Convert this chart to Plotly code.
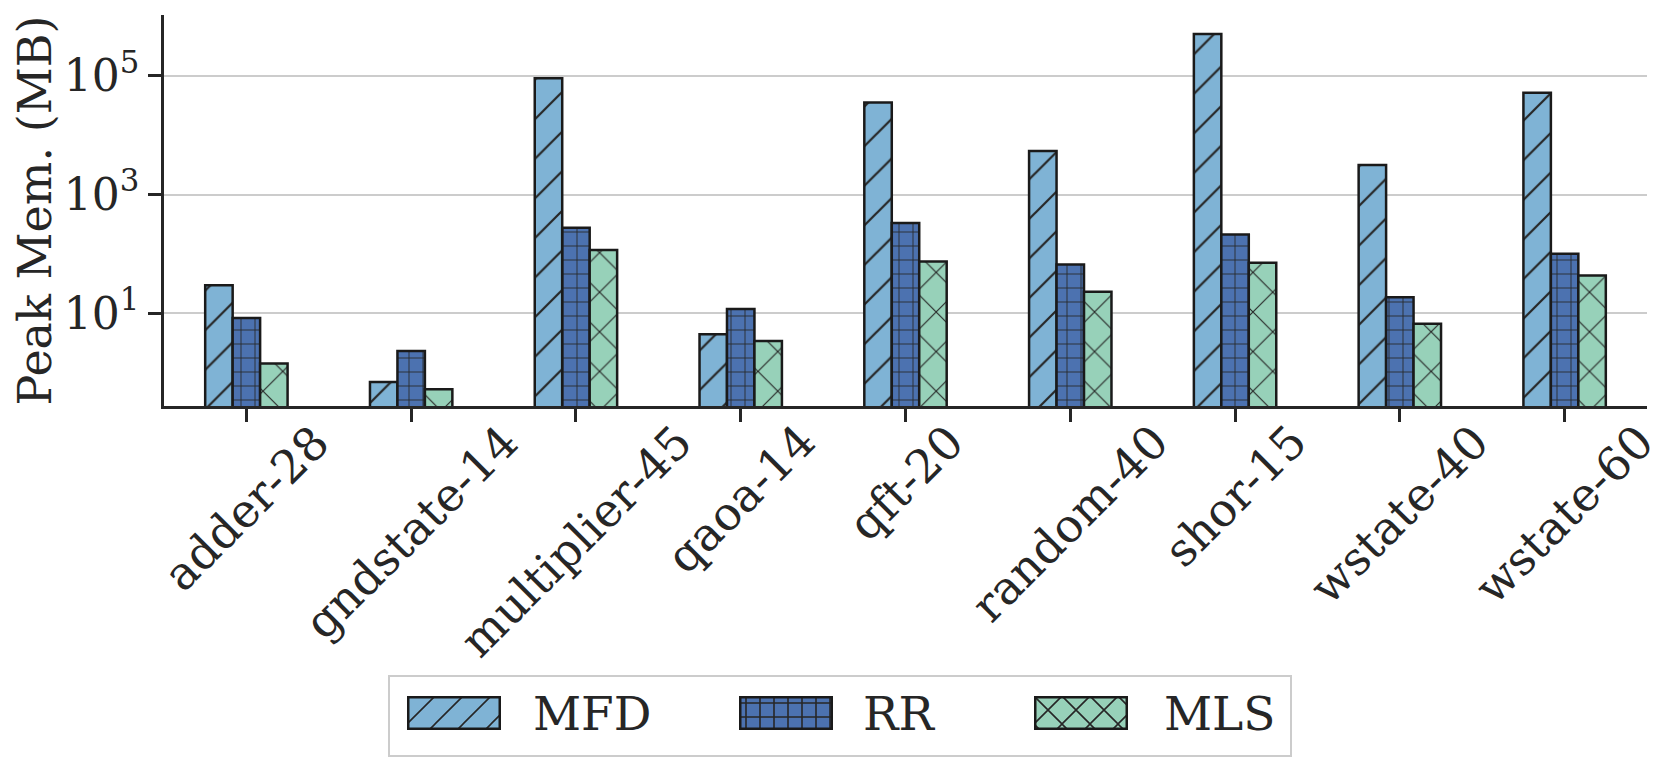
import base64
import plotly.graph_objects as go

categories = ["adder-28", "gndstate-14", "multiplier-45", "qaoa-14", "qft-20",
              "random-40", "shor-15", "wstate-40", "wstate-60"]
mfd = [29.6, 0.69, 91000, 4.4, 35700, 5400, 510000, 3160, 52000]
rr = [8.3, 2.3, 275, 11.7, 330, 66, 212, 18.6, 100]
mls = [1.42, 0.52, 116, 3.4, 74, 23, 71, 6.6, 43]
series_names = ["MFD", "RR", "MLS"]
series_values = [mfd, rr, mls]
series_colors = ["#7fb3d5", "#4c72b0", "#97d1b9"]
series_shapes = ["/", "+", "x"]
ytickvals = [10, 1000, 100000]
yticktext = ["10<sup>1</sup>", "10<sup>3</sup>", "10<sup>5</sup>"]

FONT = "DejaVu Serif"
TXT = "#262626"
EDGE = "#1a1a1a"
W, H = 1661, 757
# plot area in pixels
PL, PR, PT, PB = 156, 1639, 7, 398
pattern_size = {"/": 28, "+": 14, "x": 28}
pattern_sol = {"/": 0.08, "+": 0.12, "x": 0.08}


def px_to_paper_x(px):
    return (px - PL) / (PR - PL)


def px_to_paper_y(py):
    return (PB - py) / (PB - PT)


def swatch_svg(color, shape, w=94, h=34):
    s = pattern_size[shape]
    if shape == "/":
        lines = (f'<path d="M0,{s} L{s},0 M{-s/2},{s/2} L{s/2},{-s/2} '
                 f'M{s/2},{1.5*s} L{1.5*s},{s/2}" stroke="{TXT}" stroke-width="1.6"/>')
    elif shape == "+":
        lines = f'<path d="M{s/2},0 L{s/2},{s} M0,{s/2} L{s},{s/2}" stroke="{TXT}" stroke-width="1.6"/>'
    else:
        lines = f'<path d="M0,0 L{s},{s} M0,{s} L{s},0" stroke="{TXT}" stroke-width="1.6"/>'
    svg = (f'<svg xmlns="http://www.w3.org/2000/svg" width="{w}" height="{h}" viewBox="0 0 {w} {h}">'
           f'<defs><pattern id="p" patternUnits="userSpaceOnUse" width="{s}" height="{s}">'
           f'<rect width="{s}" height="{s}" fill="{color}"/>{lines}</pattern></defs>'
           f'<rect x="1.25" y="1.25" width="{w-2.5}" height="{h-2.5}" fill="url(#p)" '
           f'stroke="{EDGE}" stroke-width="2.5"/></svg>')
    return "data:image/svg+xml;base64," + base64.b64encode(svg.encode()).decode()


fig = go.Figure()
for name, vals, color, shape in zip(series_names, series_values, series_colors, series_shapes):
    fig.add_trace(go.Bar(
        x=categories, y=vals, name=name, showlegend=False,
        marker=dict(color=color,
                    line=dict(color=EDGE, width=2.5),
                    pattern=dict(shape=shape, fgcolor=TXT, bgcolor=color,
                                 size=pattern_size[shape], solidity=pattern_sol[shape],
                                 fillmode="replace")),
    ))

# rotated category labels centred under their ticks
annotations = []
for c in categories:
    annotations.append(dict(
        x=c, xref="x", y=0, yref="paper", text=c, showarrow=False,
        textangle=-45, xanchor="center", yanchor="top", yshift=-7, borderpad=0,
        font=dict(family=FONT, size=46, color=TXT),
    ))

# legend box (drawn manually to get large hatched swatches)
LEG_L, LEG_R, LEG_T, LEG_B = 381, 1283, 668, 748
shapes = [dict(type="rect", xref="paper", yref="paper",
               x0=px_to_paper_x(LEG_L), x1=px_to_paper_x(LEG_R),
               y0=px_to_paper_y(LEG_B), y1=px_to_paper_y(LEG_T),
               line=dict(color="#cccccc", width=2), fillcolor="rgba(0,0,0,0)", layer="below")]
images = []
swatch_left = [399, 731, 1026]
text_left = [523, 853, 1154]
for name, color, shape, sx, tx in zip(series_names, series_colors, series_shapes, swatch_left, text_left):
    images.append(dict(
        source=swatch_svg(color, shape), xref="paper", yref="paper",
        x=px_to_paper_x(sx), y=px_to_paper_y(688),
        sizex=94 / (PR - PL), sizey=34 / (PB - PT),
        xanchor="left", yanchor="top", sizing="stretch", layer="above",
    ))
    annotations.append(dict(
        x=px_to_paper_x(tx), xref="paper", y=px_to_paper_y(705), yref="paper",
        text=name, showarrow=False, xanchor="left", yanchor="middle",
        font=dict(family=FONT, size=47, color=TXT),
    ))

fig.update_layout(
    width=W, height=H,
    barmode="group", bargap=0.5, bargroupgap=0,
    plot_bgcolor="white", paper_bgcolor="white",
    margin=dict(l=PL, r=W - PR, t=PT, b=H - PB, autoexpand=False),
    font=dict(family=FONT, size=46, color=TXT),
    xaxis=dict(
        ticks="outside", ticklen=13, tickwidth=2.5, tickcolor=TXT,
        showline=True, linecolor=TXT, linewidth=2.5, showgrid=False,
        showticklabels=False, range=[-0.5, 8.5],
    ),
    yaxis=dict(
        type="log", range=[-0.566, 6.027],
        tickvals=ytickvals, ticktext=yticktext,
        ticks="outside", ticklen=13, tickwidth=2.5, tickcolor=TXT,
        showline=True, linecolor=TXT, linewidth=2.5,
        showgrid=True, gridcolor="#cccccc", gridwidth=2,
        tickfont=dict(family=FONT, size=44, color=TXT),
        title=dict(text="Peak Mem. (MB)", font=dict(family=FONT, size=46, color=TXT), standoff=13),
        zeroline=False,
    ),
    annotations=annotations,
    shapes=shapes,
    images=images,
    showlegend=False,
)

fig.write_html("out.html")
